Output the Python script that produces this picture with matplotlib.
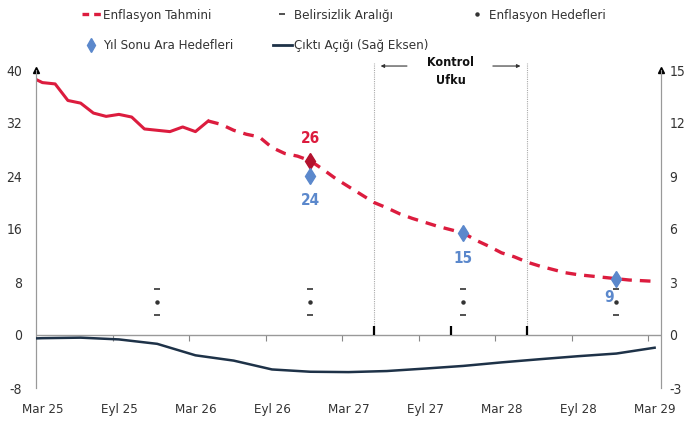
import numpy as np
import matplotlib
matplotlib.use('Agg')
from matplotlib import pyplot as plt
from matplotlib.lines import Line2D

plt.rcParams['font.family'] = ['DejaVu Sans']
plt.rcParams['font.stretch'] = 'condensed'
plt.rcParams['axes.unicode_minus'] = False

# month index: 0 = Mar 25, 48 = Mar 29
tick_labels = ['Mar 25', 'Eyl 25', 'Mar 26', 'Eyl 26', 'Mar 27',
               'Eyl 27', 'Mar 28', 'Eyl 28', 'Mar 29']
tick_pos = [0, 6, 12, 18, 24, 30, 36, 42, 48]

# realised inflation (monthly, Feb 25 - Apr 26)
actual_m = list(range(-1, 14))
actual_v = [39.05, 38.1, 37.9, 35.4, 35.0, 33.5, 33.0, 33.3, 32.9, 31.1,
            30.9, 30.7, 31.4, 30.7, 32.3]

# inflation forecast (monthly, Apr 26 - Mar 29)
fc_m = list(range(13, 49))
fc_v = [32.3, 31.8, 30.9, 30.3, 29.9, 28.3, 27.4, 27.0, 26.3, 25.0,
        23.6, 22.4, 21.2, 20.0, 19.2, 18.3, 17.6, 17.0, 16.4, 15.9,
        15.4, 14.3, 13.4, 12.4, 11.8, 11.0, 10.4, 9.9, 9.4, 9.1,
        8.9, 8.7, 8.5, 8.3, 8.2, 8.1]

# year-end values
ye_m = [9, 21, 33, 45]
target = [5, 5, 5, 5]
band_lo = [3, 3, 3, 3]
band_hi = [7, 7, 7, 7]

forecast_pt_m = [21]
forecast_pt_v = [26.3]
forecast_pt_lbl = ['26']

interim_m = [21, 33, 45]
interim_v = [24.0, 15.4, 8.5]
interim_lbl = ['24', '15', '9']

# output gap (quarterly, right axis)
gap_m = [-3, 0, 3, 6, 9, 12, 15, 18, 21, 24, 27, 30, 33, 36, 39, 42, 45, 48]
gap_v = [-0.25, -0.18, -0.15, -0.25, -0.5, -1.15, -1.45, -1.95, -2.08, -2.1,
         -2.04, -1.9, -1.75, -1.55, -1.37, -1.2, -1.05, -0.72]

control_m = [26, 32, 38]

red = '#DC1C3E'
dred = '#B3122E'
blue = '#5B88CC'
navy = '#1E3248'
txt = '#333333'

fig = plt.figure(figsize=(6.88, 4.34), dpi=100)
ax = fig.add_axes([36/688, 1-388/434, (661-36)/688, (388-70)/434])
ax2 = ax.twinx()

ax.set_xlim(-0.5, 48.5)
ax.set_ylim(-8, 40)
ax2.set_ylim(-3, 15)
ax.set_yticks(np.arange(-8, 41, 8))
ax2.set_yticks(np.arange(-3, 16, 3))

# lines
ax.plot(actual_m, actual_v, color=red, lw=2.2, solid_joinstyle='round', zorder=3)
ax.plot(fc_m, fc_v, color=red, lw=2.4, dashes=(3.2, 2.4), zorder=3)
ax2.plot(gap_m, gap_v, color=navy, lw=1.8, zorder=3)

# targets and band
ax.plot(ye_m, target, 'o', color=txt, ms=2.2, zorder=4)
ax.plot(ye_m, band_lo, '_', color=txt, ms=5, mew=1.2, zorder=4)
ax.plot(ye_m, band_hi, '_', color=txt, ms=5, mew=1.2, zorder=4)

ax.plot(forecast_pt_m, forecast_pt_v, 'd', color=dred, ms=8, zorder=5)
ax.plot(interim_m, interim_v, 'd', color=blue, ms=8, zorder=5)

for m, v, s in zip(forecast_pt_m, forecast_pt_v, forecast_pt_lbl):
    ax.text(m, v + 3.4, s, color=red, fontsize=11, fontweight='bold',
            ha='center', va='center')
offs = [(0, -3.7, 'center'), (0, -3.8, 'center'), (-0.2, -2.8, 'right')]
for (m, v, s), (dx, dy, ha) in zip(zip(interim_m, interim_v, interim_lbl), offs):
    ax.text(m + dx, v + dy, s, color=blue, fontsize=11, fontweight='bold',
            ha=ha, va='center')

# control horizon
ax.vlines([control_m[0], control_m[2]], 0, 41, colors='#aaaaaa', lw=0.8,
          linestyles=(0, (1, 1)), clip_on=False, zorder=1)
ax.vlines(control_m, 0, 1.4, colors='black', lw=1.6, zorder=4)
ax.annotate('', xy=(26.3, 40.6), xytext=(28.8, 40.6), annotation_clip=False,
            arrowprops=dict(arrowstyle='-|>', color='#333333', lw=0.8,
                            mutation_scale=5))
ax.annotate('', xy=(37.7, 40.6), xytext=(35.1, 40.6), annotation_clip=False,
            arrowprops=dict(arrowstyle='-|>', color='#333333', lw=0.8,
                            mutation_scale=5))
ax.text(32, 39.8, 'Kontrol\nUfku', ha='center', va='center', fontsize=9,
        fontweight='bold', color='#111111', linespacing=1.45)

# axes styling
for a in (ax, ax2):
    a.spines['top'].set_visible(False)
    a.spines['bottom'].set_visible(False)
    a.spines['left'].set_color('#999999')
    a.spines['right'].set_color('#999999')
ax.axhline(0, color='#999999', lw=1, zorder=2)
ax.set_xticks([5.5 + 6 * i for i in range(8)])
ax.set_xticklabels([])
ax.tick_params(axis='x', direction='out', length=4, color='#888888',
               pad=0)
# tick marks sit on the y=0 line
ax.spines['bottom'].set_position(('data', 0))
ax.tick_params(axis='y', length=0, labelsize=10, labelcolor=txt, pad=10)
ax2.tick_params(axis='y', length=0, labelsize=10, labelcolor=txt, pad=6)

sec = ax.secondary_xaxis('bottom')
sec.spines['bottom'].set_visible(False)
sec.set_xticks(tick_pos)
sec.set_xticklabels(tick_labels)
sec.tick_params(length=0, labelsize=9.5, labelcolor=txt, pad=11)

# arrowheads on the vertical axes
ax.plot([0, 1], [1, 1], '^', color='black', ms=5, transform=ax.transAxes,
        clip_on=False, zorder=6)

# legend
h_fc = Line2D([], [], color=red, lw=2.4, dashes=(2, 1.5))
h_band = Line2D([], [], color=txt, marker='_', ls='none', ms=5, mew=1.2)
h_tgt = Line2D([], [], color=txt, marker='o', ls='none', ms=2.2)
h_int = Line2D([], [], color=blue, marker='d', ls='none', ms=7)
h_gap = Line2D([], [], color=navy, lw=2)
handles = [h_fc, h_int, h_band, h_gap, h_tgt]
labels = ['Enflasyon Tahmini', 'Yıl Sonu Ara Hedefleri', 'Belirsizlik Aralığı',
          'Çıktı Açığı (Sağ Eksen)', 'Enflasyon Hedefleri']
fig.legend(handles, labels, ncol=3, loc='upper left',
           bbox_to_anchor=(73/688, 1.0), frameon=False, fontsize=9.5,
           handlelength=1.45, handletextpad=0.15, columnspacing=3.0,
           labelspacing=1.35, borderaxespad=0.25, labelcolor=txt)

fig.savefig('out.png', dpi=100)
